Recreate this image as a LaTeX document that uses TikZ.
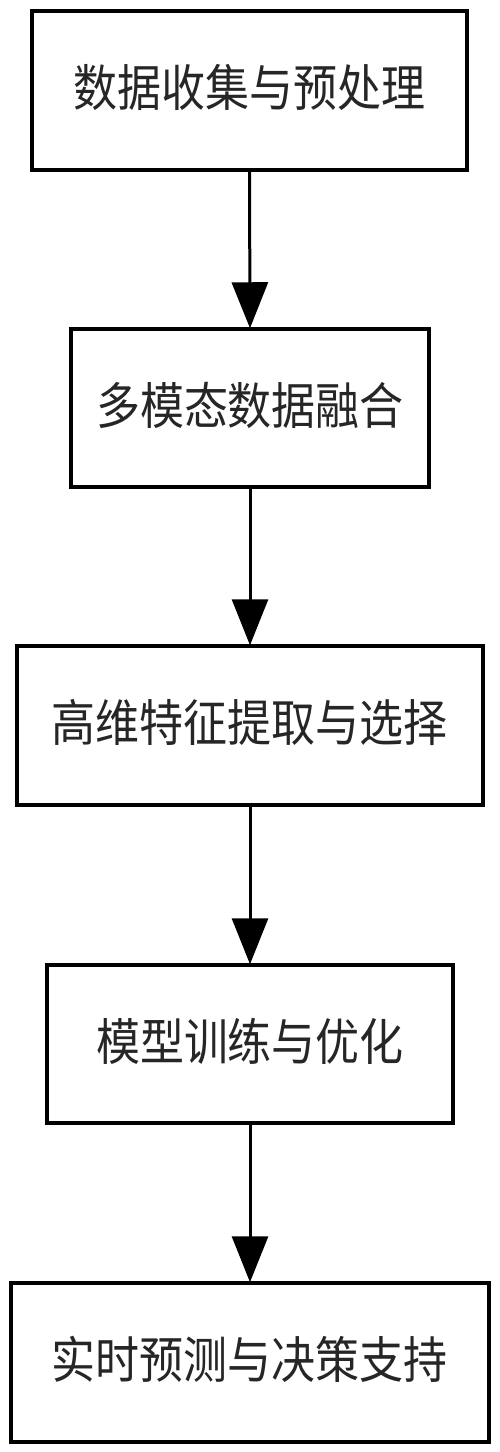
\documentclass[tikz,border=0pt]{standalone}
\usepackage{fontspec}
\usepackage{graphicx}
\newfontfamily\cjk{Noto Sans CJK SC}
\newcommand\boxlabel[1]{\raisebox{3pt}[\height][\depth]{\scalebox{0.88}[1]{#1}}}
\usetikzlibrary{arrows.meta}
\begin{document}
\begin{tikzpicture}[x=1pt,y=-1pt,
  stepbox/.style={draw=black, line width=3.5pt, fill=white, inner sep=0pt,
    font=\cjk\fontsize{50}{56}\selectfont, text=black!85},
  flow/.style={draw=black, line width=3pt, -{Triangle[length=46pt,width=36pt]}, shorten >=-1pt}
]
\useasboundingbox[fill=white] (0,0) rectangle (500,1452);
\node[stepbox, minimum width=435pt, minimum height=159pt] (b1) at (249.5,90.5) {\boxlabel{数据收集与预处理}};
\node[stepbox, minimum width=358pt, minimum height=158pt] (b2) at (250,408) {\boxlabel{多模态数据融合}};
\node[stepbox, minimum width=466pt, minimum height=159pt] (b3) at (250,725.5) {\boxlabel{高维特征提取与选择}};
\node[stepbox, minimum width=406pt, minimum height=158pt] (b4) at (250,1044) {\boxlabel{模型训练与优化}};
\node[stepbox, minimum width=478pt, minimum height=159pt] (b5) at (250,1362.5) {\boxlabel{实时预测与决策支持}};
\draw[flow] (b1.south) -- (b2.north);
\draw[flow] (b2.south) -- (b3.north);
\draw[flow] (b3.south) -- (b4.north);
\draw[flow] (b4.south) -- (b5.north);
\end{tikzpicture}
\end{document}
